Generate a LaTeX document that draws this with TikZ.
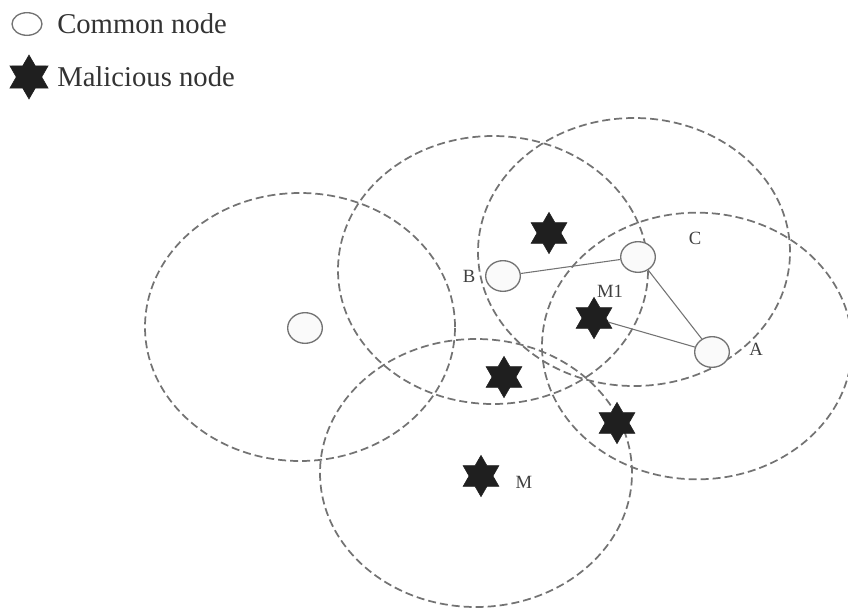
\documentclass[tikz,border=0pt]{standalone}
\usepackage{fontspec}
\setmainfont{Liberation Serif}
\usetikzlibrary{shapes.geometric}

\begin{document}
\begin{tikzpicture}[x=0.75pt,y=-0.75pt]
  \tikzstyle{radio} = [draw=black!55, dash pattern=on 6pt off 3pt,
    line width=1.3pt]
  \tikzstyle{common} = [draw=black!55, ellipse, fill=gray!4,
    line width=1pt, minimum width=26pt, minimum height=23pt, inner sep=0pt]
  \tikzstyle{malicious} = [star, star points=6, star point ratio=1.73,
    fill=black!88, draw=black!88, minimum size=31pt, inner sep=0pt]
  \tikzstyle{link} = [draw=black!55, line width=0.8pt]
  \tikzstyle{lbl} = [text=black!75, font=\fontsize{14}{16}\selectfont,
    inner sep=0pt]
  \tikzstyle{legend} = [text=black!80, font=\fontsize{21.5}{24}\selectfont,
    anchor=west, inner sep=0pt]

  \useasboundingbox (0,0) rectangle (848,607);

  % legend
  \node[common, fill=white, minimum width=22.5pt, minimum height=17pt] (keyc) at (27,24) {};
  \node[legend] (keyct) at (57,24) {Common node};
  \node[malicious, minimum size=33pt] (keym) at (29,77) {};
  \node[legend] (keymt) at (57,77) {Malicious node};

  % transmission ranges
  \draw[radio] (300,327) ellipse [x radius=116.25pt, y radius=100.5pt];
  \draw[radio] (493,270) ellipse [x radius=116.25pt, y radius=100.5pt];
  \draw[radio] (634,252) ellipse [x radius=117pt, y radius=100.5pt];
  \draw[radio] (697,346) ellipse [x radius=116.25pt, y radius=100pt];
  \draw[radio] (476,473) ellipse [x radius=117pt, y radius=100.5pt];

  % nodes
  \node[common] (n0) at (305,328) {};
  \node[common] (B) at (503,276) {};
  \node[common] (C) at (638,257) {};
  \node[common] (A) at (712,352) {};

  \node[malicious] (s1) at (549,233) {};
  \node[malicious] (M1) at (594,318) {};
  \node[malicious] (s2) at (504,377) {};
  \node[malicious] (s3) at (617,423) {};
  \node[malicious] (M) at (481,476) {};

  % labels
  \node[lbl] (lb) at (469,276) {B};
  \node[lbl] (lc) at (695,238) {C};
  \node[lbl] (la) at (756,349) {A};
  \node[lbl] (lm1) at (610,291) {M1};
  \node[lbl] (lm) at (524,482) {M};

  \draw[link] (B) -- (C);
  \draw[link] (C) -- (A);
  \draw[link] (M1) -- (A);
\end{tikzpicture}
\end{document}
